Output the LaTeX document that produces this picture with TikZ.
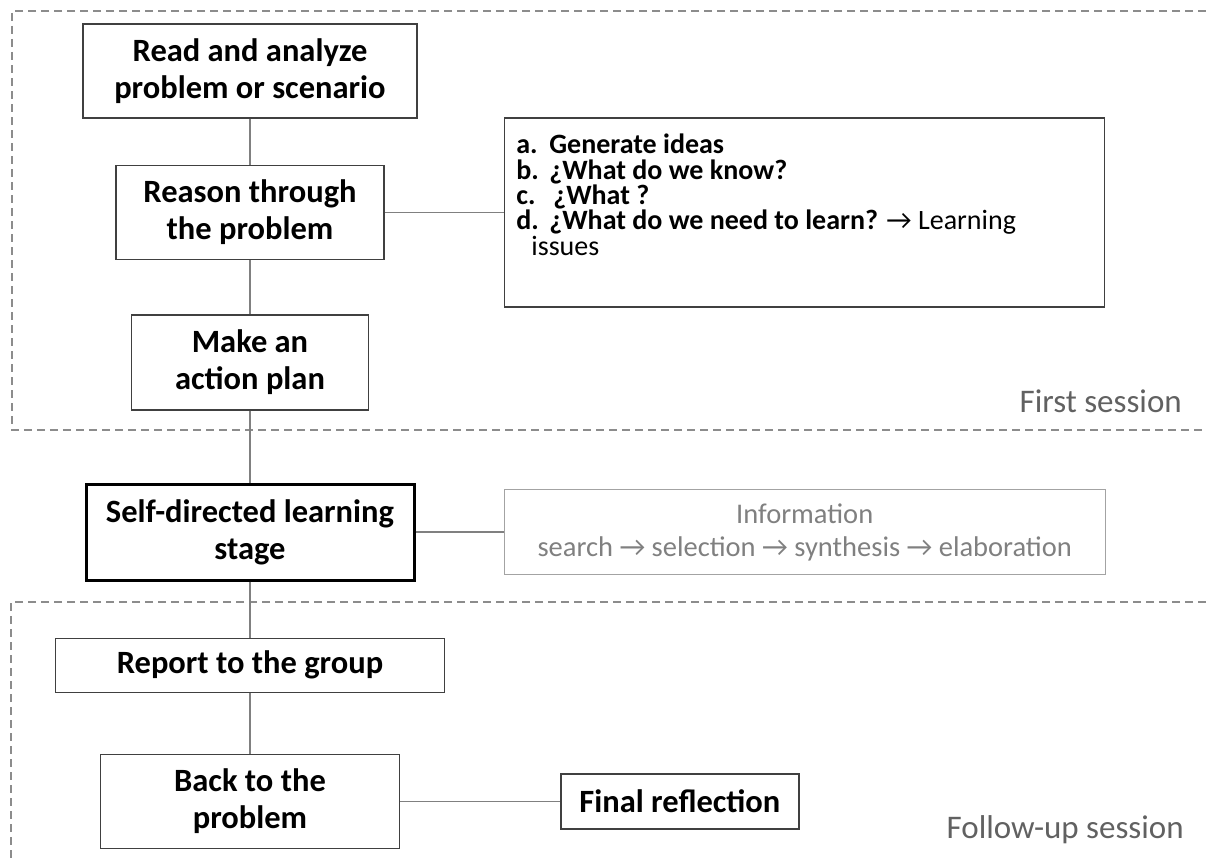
\documentclass[tikz,border=0pt]{standalone}
\usepackage{fontspec}
\setmainfont{Carlito}
\usetikzlibrary{positioning}
\definecolor{flowDark}{gray}{0.00}
\definecolor{flowEdge}{gray}{0.25}
\definecolor{flowLine}{gray}{0.50}
\definecolor{flowSoft}{gray}{0.55}
\definecolor{flowNote}{gray}{0.38}
\newcommand{\qlbl}[1]{\makebox[33pt][l]{#1}}

\begin{document}
\begin{tikzpicture}[x=1pt, y=-1pt,
      stage/.style={draw=flowEdge, line width=1.4pt, align=center, inner sep=0pt,
                    font=\fontsize{32.5}{37}\selectfont\bfseries},
      listbox/.style={draw=flowEdge, line width=1.4pt, inner sep=12pt,
                      font=\fontsize{28}{25.3}\selectfont},
      infobox/.style={draw=flowSoft!80, line width=1.4pt, align=center, inner sep=0pt,
                      text=flowLine, font=\fontsize{28.5}{33}\selectfont},
      link/.style={draw=flowLine, line width=1.2pt},
      session/.style={draw=flowSoft, line width=1.5pt, dash pattern=on 8pt off 5pt},
      note/.style={anchor=base east, inner sep=0pt, text=flowNote,
                   font=\fontsize{33}{37}\selectfont}]
    \useasboundingbox (0,0) rectangle (1206,862);
    % session frames
    \draw[session] (1206,11) -| (12,430) -- (1206,430);
    \draw[session] (1206,602) -| (11,862);
    \node[note] (firstlbl) at (1182,412) {First session};
    \node[note] (followlbl) at (1184,838) {Follow-up session};
    % main column
    \node[stage, minimum width=334pt, minimum height=94pt] (read) at (250,71)
      {Read and analyze\\problem or scenario};
    \node[stage, minimum width=268pt, minimum height=94pt, below=46pt of read] (reason)
      {Reason through\\the problem};
    \node[stage, minimum width=237pt, minimum height=95pt, below=54pt of reason] (plan)
      {Make an\\action plan};
    \node[stage, minimum width=328pt, minimum height=96pt, below=72pt of plan,
          draw=flowDark, line width=3pt] (selfdir)
      {Self-directed learning\\stage};
    \node[stage, minimum width=389pt, minimum height=54pt, below=56pt of selfdir] (report)
      {Report to the group};
    \node[stage, minimum width=299pt, minimum height=94pt, below=61pt of report] (back)
      {Back to the\\problem};
    % side boxes
    \node[listbox, right=119pt of reason] (questions) {%
      \parbox[t][165pt][t]{576pt}{%
        \rule{0pt}{24pt}\textbf{\qlbl{a.}Generate ideas}\\
        \textbf{\qlbl{b.}¿What do we know?}\\
        \textbf{\makebox[37pt][l]{c.}¿What ?}\\
        \textbf{\qlbl{d.}¿What do we need to learn?} → Learning\\
        \hspace*{15pt}issues}};
    \node[infobox, minimum width=601pt, minimum height=85pt, right=88pt of selfdir] (info)
      {Information\\search → selection → synthesis → elaboration};
    \node[stage, minimum width=238pt, minimum height=55pt, right=160pt of back] (final)
      {Final reflection};
    % connectors
    \draw[link] (read) -- (reason);
    \draw[link] (reason) -- (plan);
    \draw[link] (plan) -- (selfdir);
    \draw[link] (selfdir) -- (report);
    \draw[link] (report) -- (back);
    \draw[link] (reason.east) -- (reason.east -| questions.west);
    \draw[link] (selfdir) -- (info);
    \draw[link] (back) -- (final);
  \end{tikzpicture}
\end{document}
